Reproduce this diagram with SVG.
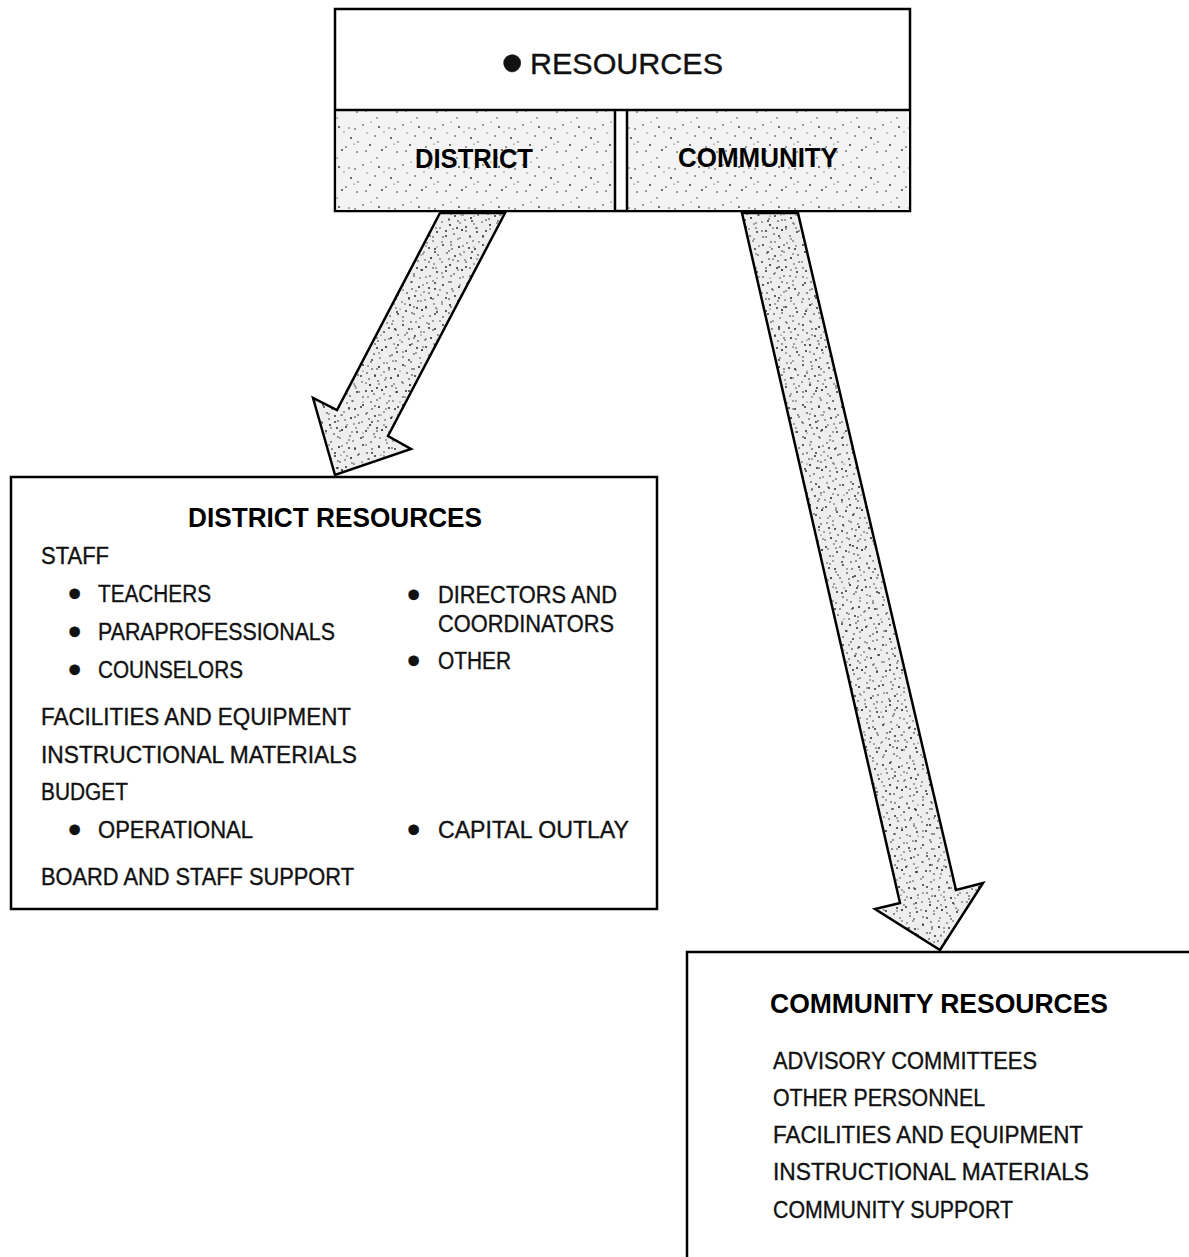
<svg xmlns="http://www.w3.org/2000/svg" width="1189" height="1257" viewBox="0 0 1189 1257">
<style>
.box{fill:#fff;stroke:#000;stroke-width:2.5}
.ln{fill:none;stroke:#000;stroke-width:2.5}
.outline{fill:none;stroke:#000;stroke-width:2.5;stroke-linejoin:miter}
.t{font-family:"Liberation Sans",Arial,sans-serif;font-size:23px;fill:#111;stroke:#111;stroke-width:0.35}
.h{font-family:"Liberation Sans",Arial,sans-serif;font-size:27px;font-weight:bold;fill:#000}
.b{font-size:38px}
</style>
<defs>
<pattern id="stipA" width="40" height="40" patternUnits="userSpaceOnUse">
<rect width="40" height="40" fill="#eeeeee"/>
<g fill="#1a1a1a">
<circle cx="3" cy="5" r="0.9"/><circle cx="11" cy="2" r="0.8"/><circle cx="19" cy="7" r="1"/><circle cx="27" cy="3" r="0.7"/><circle cx="35" cy="9" r="0.9"/>
<circle cx="7" cy="13" r="0.8"/><circle cx="15" cy="16" r="0.9"/><circle cx="24" cy="12" r="0.7"/><circle cx="31" cy="18" r="1"/><circle cx="38" cy="15" r="0.8"/>
<circle cx="2" cy="22" r="0.7"/><circle cx="10" cy="25" r="1"/><circle cx="18" cy="21" r="0.8"/><circle cx="26" cy="27" r="0.9"/><circle cx="34" cy="24" r="0.7"/>
<circle cx="6" cy="31" r="0.9"/><circle cx="14" cy="34" r="0.8"/><circle cx="22" cy="30" r="1"/><circle cx="30" cy="36" r="0.8"/><circle cx="37" cy="32" r="0.9"/>
<circle cx="20" cy="38" r="0.7"/><circle cx="12" cy="9" r="0.8"/><circle cx="29" cy="8" r="0.9"/><circle cx="36" cy="28" r="0.7"/><circle cx="9" cy="19" r="0.8"/>
<circle cx="25" cy="20" r="0.7"/><circle cx="17" cy="28" r="0.9"/><circle cx="3" cy="37" r="0.8"/><circle cx="33" cy="1" r="0.7"/><circle cx="21" cy="15" r="0.6"/>
</g>
</pattern>
<pattern id="stipB" width="37" height="31" patternUnits="userSpaceOnUse">
<g fill="#222">
<circle cx="5" cy="3" r="0.8"/><circle cx="16" cy="6" r="0.7"/><circle cx="28" cy="4" r="0.9"/><circle cx="9" cy="12" r="0.7"/><circle cx="22" cy="14" r="0.8"/>
<circle cx="33" cy="11" r="0.7"/><circle cx="2" cy="19" r="0.9"/><circle cx="14" cy="22" r="0.7"/><circle cx="26" cy="20" r="0.8"/><circle cx="35" cy="25" r="0.7"/>
<circle cx="7" cy="28" r="0.8"/><circle cx="19" cy="29" r="0.7"/><circle cx="30" cy="30" r="0.6"/>
</g>
</pattern>
<pattern id="stipL" width="40" height="40" patternUnits="userSpaceOnUse">
<rect width="40" height="40" fill="#f3f3f3"/>
<g fill="#2a2a2a">
<circle cx="3" cy="5" r="0.8"/><circle cx="19" cy="7" r="0.9"/><circle cx="35" cy="9" r="0.8"/><circle cx="11" cy="2" r="0.6"/>
<circle cx="15" cy="16" r="0.8"/><circle cx="31" cy="18" r="0.9"/><circle cx="7" cy="13" r="0.6"/>
<circle cx="10" cy="25" r="0.9"/><circle cx="26" cy="27" r="0.8"/><circle cx="34" cy="24" r="0.6"/>
<circle cx="6" cy="31" r="0.8"/><circle cx="22" cy="30" r="0.9"/><circle cx="37" cy="32" r="0.8"/>
<circle cx="29" cy="8" r="0.7"/><circle cx="17" cy="38" r="0.7"/><circle cx="38" cy="22" r="0.7"/><circle cx="24" cy="12" r="0.6"/>
</g>
</pattern>
<polygon id="shape-arrow-district" points="440,213 505,213 388,436 411,449 335,475 313,398 337,410"/>
<polygon id="shape-arrow-community" points="742,213 798,213 956,890 983,883 940,950 875,909 900,903"/>
</defs>
<rect width="1189" height="1257" fill="#fff"/>

<g id="connectors">
<g id="arrow-district">
<use href="#shape-arrow-district" fill="url(#stipA)"/>
<use href="#shape-arrow-district" fill="url(#stipB)"/>
<use href="#shape-arrow-district" class="outline"/>
</g>
<g id="arrow-community">
<use href="#shape-arrow-community" fill="url(#stipA)"/>
<use href="#shape-arrow-community" fill="url(#stipB)"/>
<use href="#shape-arrow-community" class="outline"/>
</g>
</g>

<g id="node-resources">
<rect class="box" x="335" y="9" width="575" height="202"/>
<rect x="336.5" y="110" width="278" height="100" fill="url(#stipL)"/>
<rect x="627" y="110" width="282" height="100" fill="url(#stipL)"/>
<line class="ln" x1="335" y1="110" x2="910" y2="110"/>
<line class="ln" x1="615" y1="110" x2="615" y2="211"/>
<line class="ln" x1="627" y1="110" x2="627" y2="211"/>
<text class="t" style="font-size:29px" y="74"><tspan x="501" dy="11" style="font-size:64px">•</tspan><tspan x="530" dy="-11" textLength="193" lengthAdjust="spacingAndGlyphs">RESOURCES</tspan></text>
<text class="h" x="415" y="168" textLength="118" lengthAdjust="spacingAndGlyphs">DISTRICT</text>
<text class="h" x="678" y="167" textLength="160" lengthAdjust="spacingAndGlyphs">COMMUNITY</text>
</g>

<g id="node-district">
<rect class="box" x="11" y="477" width="646" height="432"/>
<text class="h" x="188" y="527" textLength="294" lengthAdjust="spacingAndGlyphs">DISTRICT RESOURCES</text>
<text class="t" x="41" y="564" textLength="68" lengthAdjust="spacingAndGlyphs">STAFF</text>
<text class="t" y="602"><tspan class="b" x="68" dy="4.5">•</tspan><tspan x="98" dy="-4.5" textLength="113" lengthAdjust="spacingAndGlyphs">TEACHERS</tspan></text>
<text class="t" y="640"><tspan class="b" x="68" dy="4.5">•</tspan><tspan x="98" dy="-4.5" textLength="237" lengthAdjust="spacingAndGlyphs">PARAPROFESSIONALS</tspan></text>
<text class="t" y="678"><tspan class="b" x="68" dy="4.5">•</tspan><tspan x="98" dy="-4.5" textLength="145" lengthAdjust="spacingAndGlyphs">COUNSELORS</tspan></text>
<text class="t" y="603"><tspan class="b" x="407" dy="4.5">•</tspan><tspan x="438" dy="-4.5" textLength="179" lengthAdjust="spacingAndGlyphs">DIRECTORS AND</tspan></text>
<text class="t" x="438" y="632" textLength="176" lengthAdjust="spacingAndGlyphs">COORDINATORS</text>
<text class="t" y="669"><tspan class="b" x="407" dy="4.5">•</tspan><tspan x="438" dy="-4.5" textLength="73" lengthAdjust="spacingAndGlyphs">OTHER</tspan></text>
<text class="t" x="41" y="725" textLength="310" lengthAdjust="spacingAndGlyphs">FACILITIES AND EQUIPMENT</text>
<text class="t" x="41" y="763" textLength="316" lengthAdjust="spacingAndGlyphs">INSTRUCTIONAL MATERIALS</text>
<text class="t" x="41" y="800" textLength="87" lengthAdjust="spacingAndGlyphs">BUDGET</text>
<text class="t" y="838"><tspan class="b" x="68" dy="4.5">•</tspan><tspan x="98" dy="-4.5" textLength="155" lengthAdjust="spacingAndGlyphs">OPERATIONAL</tspan></text>
<text class="t" y="838"><tspan class="b" x="407" dy="4.5">•</tspan><tspan x="438" dy="-4.5" textLength="191" lengthAdjust="spacingAndGlyphs">CAPITAL OUTLAY</tspan></text>
<text class="t" x="41" y="885" textLength="313" lengthAdjust="spacingAndGlyphs">BOARD AND STAFF SUPPORT</text>
</g>

<g id="node-community">
<rect x="687" y="952" width="510" height="320" fill="#fff"/>
<polyline class="ln" points="687,1257 687,952 1189,952"/>
<text class="h" x="770" y="1013" textLength="338" lengthAdjust="spacingAndGlyphs">COMMUNITY RESOURCES</text>
<text class="t" x="773" y="1069" textLength="264" lengthAdjust="spacingAndGlyphs">ADVISORY COMMITTEES</text>
<text class="t" x="773" y="1106" textLength="212" lengthAdjust="spacingAndGlyphs">OTHER PERSONNEL</text>
<text class="t" x="773" y="1143" textLength="310" lengthAdjust="spacingAndGlyphs">FACILITIES AND EQUIPMENT</text>
<text class="t" x="773" y="1180" textLength="316" lengthAdjust="spacingAndGlyphs">INSTRUCTIONAL MATERIALS</text>
<text class="t" x="773" y="1218" textLength="240" lengthAdjust="spacingAndGlyphs">COMMUNITY SUPPORT</text>
</g>
</svg>
